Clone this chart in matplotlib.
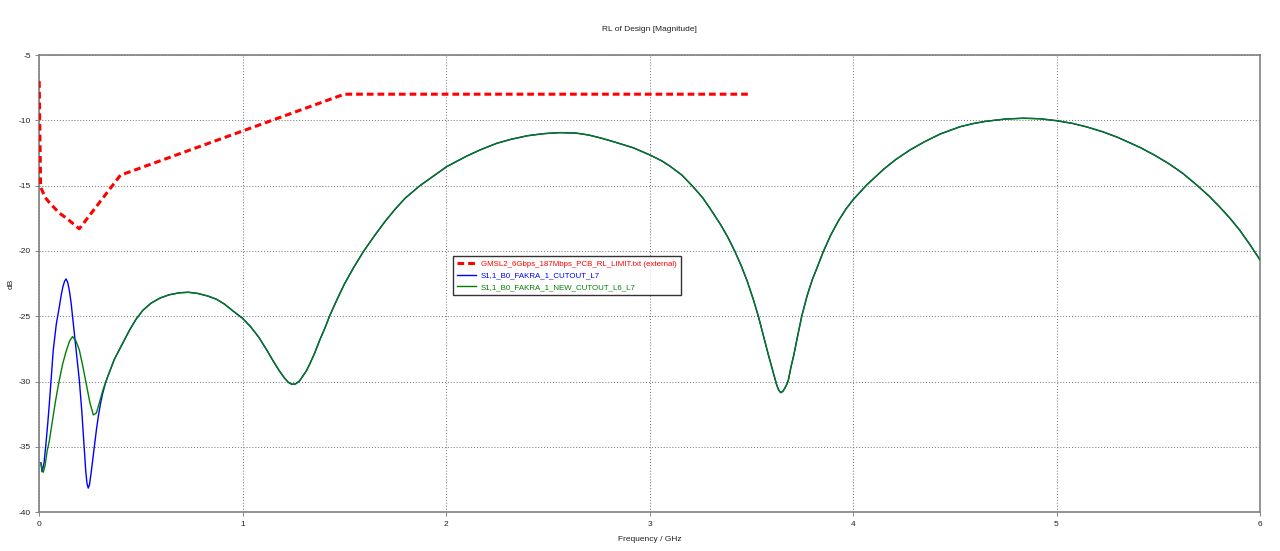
import matplotlib
matplotlib.use("Agg")
import matplotlib.pyplot as plt

# ---- data ----
limit_f = [0.001, 0.008, 0.03, 0.054, 0.10, 0.136, 0.198, 0.40, 1.50, 3.50]
limit_db = [-7.0, -15.1, -15.9, -16.35, -17.1, -17.5, -18.3, -14.2, -8.0, -8.0]

green_f = [0.010, 0.015, 0.021, 0.030, 0.040, 0.050, 0.059, 0.070, 0.080, 0.090, 0.100, 0.117,
           0.133, 0.150, 0.165, 0.182, 0.198, 0.215, 0.231, 0.250, 0.267, 0.282, 0.296, 0.315,
           0.338, 0.370, 0.411, 0.445, 0.477, 0.510, 0.550, 0.595, 0.640, 0.690, 0.734, 0.780,
           0.830, 0.873, 0.910, 0.950, 1.000, 1.040, 1.080, 1.119, 1.150, 1.180, 1.205, 1.225,
           1.242, 1.260, 1.280, 1.300, 1.315, 1.332, 1.355, 1.380, 1.405, 1.430, 1.465, 1.500,
           1.545, 1.594, 1.650, 1.700, 1.750, 1.800, 1.872, 1.940, 2.003, 2.100, 2.170, 2.249,
           2.320, 2.400, 2.480, 2.560, 2.640, 2.700, 2.760, 2.822, 2.920, 3.002, 3.060, 3.100,
           3.160, 3.215, 3.260, 3.297, 3.350, 3.385, 3.420, 3.450, 3.480, 3.510, 3.535, 3.555,
           3.570, 3.585, 3.600, 3.613, 3.625, 3.635, 3.645, 3.655, 3.665, 3.675, 3.682, 3.695,
           3.710, 3.728, 3.748, 3.775, 3.800, 3.828, 3.854, 3.890, 3.930, 3.965, 4.002, 4.067,
           4.150, 4.210, 4.280, 4.350, 4.428, 4.526, 4.590, 4.650, 4.750, 4.837, 4.920, 5.001,
           5.080, 5.150, 5.230, 5.300, 5.410, 5.480, 5.550, 5.620, 5.689, 5.750, 5.800, 5.850,
           5.900, 5.950, 6.000]
green_db = [-36.3, -36.75, -36.93, -36.4, -35.3, -34.6, -33.7, -32.6, -31.6, -30.7, -29.87, -28.6,
            -27.7, -26.9, -26.55, -26.9, -27.57, -28.8, -30.1, -31.6, -32.55, -32.4, -31.65, -30.6,
            -29.6, -28.3, -27.06, -26.05, -25.22, -24.55, -24.0, -23.6, -23.35, -23.2, -23.16, -23.25,
            -23.45, -23.7, -24.05, -24.55, -25.15, -25.8, -26.6, -27.57, -28.4, -29.15, -29.7, -30.05,
            -30.2, -30.18, -29.95, -29.5, -29.15, -28.6, -27.8, -26.8, -25.9, -24.9, -23.7, -22.55,
            -21.3, -20.05, -18.8, -17.75, -16.8, -15.95, -15.0, -14.25, -13.55, -12.75, -12.25, -11.76,
            -11.45, -11.18, -11.02, -10.94, -10.98, -11.12, -11.35, -11.63, -12.1, -12.65, -13.1, -13.5,
            -14.2, -15.1, -15.9, -16.73, -18.0, -18.95, -20.05, -21.1, -22.3, -23.7, -25.0, -26.2,
            -27.1, -28.0, -28.85, -29.6, -30.25, -30.65, -30.84, -30.75, -30.5, -30.2, -29.9, -28.9,
            -27.9, -26.5, -25.0, -23.4, -22.2, -21.1, -20.05, -18.8, -17.65, -16.8, -16.05, -14.95,
            -13.75, -13.0, -12.27, -11.65, -11.05, -10.49, -10.25, -10.08, -9.9, -9.84, -9.88, -10.03,
            -10.24, -10.51, -10.89, -11.30, -12.07, -12.65, -13.3, -14.05, -14.95, -15.8, -16.6, -17.45,
            -18.4, -19.5, -20.68]

blue_f_low = [0.0098, 0.0147, 0.025, 0.035, 0.043, 0.051, 0.060, 0.070, 0.085, 0.100, 0.110,
              0.118, 0.126, 0.133, 0.141, 0.150, 0.158, 0.165, 0.182, 0.198, 0.210, 0.223, 0.230,
              0.236, 0.242, 0.248, 0.256, 0.264, 0.272, 0.282, 0.292, 0.302, 0.313, 0.325, 0.338]
blue_db_low = [-36.2, -36.9, -36.2, -34.6, -33.2, -31.65, -29.7, -27.6, -25.6, -24.26, -23.3,
               -22.7, -22.3, -22.14, -22.4, -23.1, -24.0, -25.02, -27.5, -29.87, -32.2, -35.2, -36.9,
               -37.8, -38.15, -37.9, -37.0, -36.0, -34.97, -33.7, -32.6, -31.7, -30.9, -30.2, -29.6]

labels = ["GMSL2_6Gbps_187Mbps_PCB_RL_LIMIT.txt (external)",
          "S1,1_B0_FAKRA_1_CUTOUT_L7",
          "S1,1_B0_FAKRA_1_NEW_CUTOUT_L6_L7"]

xticks = [0, 1, 2, 3, 4, 5, 6]
yticks = [-5, -10, -15, -20, -25, -30, -35, -40]

# blue series: low-frequency part, then the shared curve
blue_f = blue_f_low + [f for f in green_f if f > blue_f_low[-1]]
blue_db = blue_db_low + [d for f, d in zip(green_f, green_db) if f > blue_f_low[-1]]

plt.rcParams['font.family'] = ['Liberation Sans', 'DejaVu Sans']
fig = plt.figure(figsize=(12.8, 5.51), dpi=100)
ax = fig.add_axes([39/1280, 1 - 512.3/551, (1260-39)/1280, (512.3-55)/551])

ax.plot(limit_f, limit_db, color='#ff0000', lw=2.2, ls=(0, (2.2, 1.3)), label=labels[0], zorder=4)
ax.plot(blue_f, blue_db, color='#0000ff', lw=1.0, label=labels[1], zorder=2)
ax.plot(green_f, green_db, color='#008000', lw=1.0, label=labels[2], zorder=3)

ax.set_xlim(0, 6)
ax.set_ylim(-40, -5)
ax.set_xticks(xticks)
ax.set_yticks(yticks)
ax.set_xticklabels([str(t) for t in xticks])
ax.set_yticklabels([str(t) for t in yticks])
ax.tick_params(labelsize=6, length=3, width=0.6, color='#707070', pad=3, labelcolor='#222222')
ax.grid(True, color='#707070', ls=(0, (1, 2)), lw=0.7)
for s in ax.spines.values():
    s.set_color('#808080')
    s.set_linewidth(1.2)

ax.set_title("RL of Design [Magnitude]", fontsize=6, pad=17, color='#222222')
ax.set_xlabel("Frequency / GHz", fontsize=6, labelpad=6, color='#222222')
ax.set_ylabel("dB", fontsize=6, labelpad=3, color='#222222')

leg = ax.legend(loc='upper left', bbox_to_anchor=(0.339, 0.560), fontsize=5.7,
                frameon=True, fancybox=False, borderpad=0.55, handlelength=2.4,
                handletextpad=0.6, labelspacing=0.5, borderaxespad=0)
leg.get_frame().set_edgecolor('black')
leg.get_frame().set_linewidth(1.0)
for txt, c in zip(leg.get_texts(), ['#ff0000', '#0000ff', '#008000']):
    txt.set_color(c)

fig.savefig("out.png", dpi=100)
